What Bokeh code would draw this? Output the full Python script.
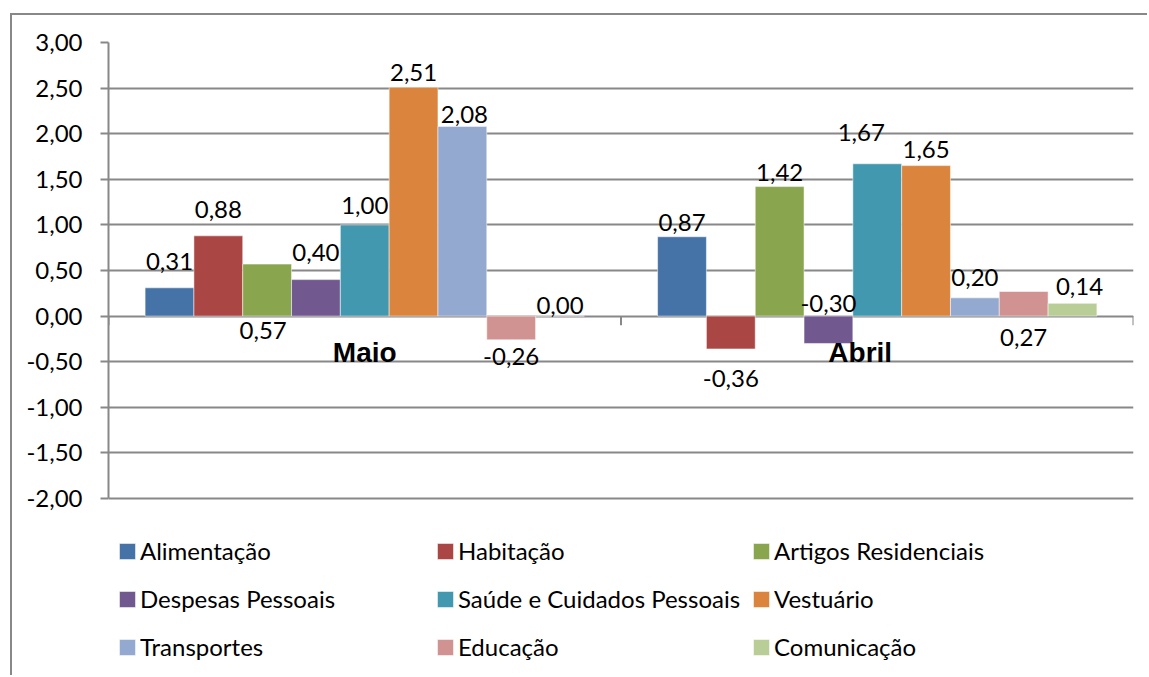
from bokeh.plotting import figure
from bokeh.models import (Legend, LegendItem, ColumnDataSource, FixedTicker, Range1d)
from bokeh.core.properties import value
from bokeh.embed import file_html
from bokeh.resources import INLINE

# ---------------- data ----------------
categories = ["Maio", "Abril"]
series_names = ["Alimentação", "Habitação", "Artigos Residenciais",
                "Despesas Pessoais", "Saúde e Cuidados Pessoais", "Vestuário",
                "Transportes", "Educação", "Comunicação"]
alimentacao = [0.31, 0.87]
habitacao = [0.88, -0.36]
artigos_residenciais = [0.57, 1.42]
despesas_pessoais = [0.40, -0.30]
saude_cuidados = [1.00, 1.67]
vestuario = [2.51, 1.65]
transportes = [2.08, 0.20]
educacao = [-0.26, 0.27]
comunicacao = [0.00, 0.14]
y_ticks = [-2.0, -1.5, -1.0, -0.5, 0.0, 0.5, 1.0, 1.5, 2.0, 2.5, 3.0]
y_tick_labels = ["-2,00", "-1,50", "-1,00", "-0,50", "0,00", "0,50",
                 "1,00", "1,50", "2,00", "2,50", "3,00"]

series_values = [alimentacao, habitacao, artigos_residenciais, despesas_pessoais,
                 saude_cuidados, vestuario, transportes, educacao, comunicacao]

# ---------------- styles ----------------
colors = ["#4572A7", "#AA4643", "#89A54E", "#71588F", "#4198AF",
          "#DB843D", "#93A9CF", "#D19392", "#B9CD96"]
# data-label placement per series: (anchor, dx px, dy px) for [Maio, Abril]
# anchor "end" = at bar end, "zero" = at the zero line; dy positive = downwards
label_place = [
    [("end", 0, -26), ("end", 0, -14)],
    [("end", 0, -26), ("end", 0, 30)],
    [("zero", -4, 14), ("end", 0, -14)],
    [("end", 0, -27), ("zero", 0, -13)],
    [("end", 0, -19), ("end", -16, -31)],
    [("end", 0, -15), ("end", 0, -16)],
    [("end", 2, -12), ("end", 0, -20)],
    [("end", 0, 17), ("zero", 0, 21)],
    [("end", 0, -11), ("end", 7, -17)],
]
cat_label_dx = [0, -17]
cat_label_dy = 36

GRID = "#888888"
FONT = "Lato"
FS = "24px"

# canvas sits inside a page-level border (left/top), offset by 12/15 px
CANVAS_W, CANVAS_H = 1137, 662
B_LEFT, B_TOP, B_RIGHT = 96, 27, 16
PX_PER_UNIT = 91.2
frame_h = CANVAS_H - B_TOP
y_top = 3.0
y_bottom = y_top - frame_h / PX_PER_UNIT

p = figure(width=CANVAS_W, height=CANVAS_H, output_backend="svg",
           toolbar_location=None,
           x_range=Range1d(0, len(categories)), y_range=Range1d(y_bottom, y_top),
           x_axis_location=None,
           min_border_left=B_LEFT, min_border_right=B_RIGHT,
           min_border_top=B_TOP, min_border_bottom=0)
p.styles = {"margin-left": "10px", "margin-top": "13px",
            "border-left": f"2px solid {GRID}", "border-top": f"2px solid {GRID}"}
p.outline_line_color = None
p.background_fill_color = "white"
p.border_fill_color = "white"

# y axis
p.yaxis.ticker = FixedTicker(ticks=y_ticks)
p.yaxis.bounds = (min(y_ticks), max(y_ticks))
p.yaxis.major_label_overrides = dict(zip(y_ticks, y_tick_labels))
p.yaxis.axis_line_color = GRID
p.yaxis.axis_line_width = 2
p.yaxis.major_tick_line_color = GRID
p.yaxis.major_tick_line_width = 2
p.yaxis.major_tick_out = 8
p.yaxis.major_tick_in = 0
p.yaxis.minor_tick_line_color = None
p.yaxis.major_label_standoff = 18
p.yaxis.major_label_text_font = FONT
p.yaxis.major_label_text_font_size = FS
p.yaxis.major_label_text_color = "black"

p.ygrid.ticker = FixedTicker(ticks=y_ticks)
p.ygrid.grid_line_color = GRID
p.ygrid.grid_line_width = 2
p.xgrid.visible = False

n = len(series_names)
bw = 1.0 / (n + 1.5)
renderers = []
lab_x, lab_y, lab_t, lab_dx, lab_dy = [], [], [], [], []
for i, (name, vals) in enumerate(zip(series_names, series_values)):
    xs = [c + 0.5 + (i - (n - 1) / 2) * bw for c in range(len(categories))]
    src = ColumnDataSource(dict(x=xs, top=vals))
    r = p.vbar(x="x", top="top", bottom=0, width=bw, source=src,
               fill_color=colors[i], line_color="white", line_alpha=0.5,
               line_width=1)
    renderers.append(r)
    for c, v in enumerate(vals):
        anchor, dx, dy = label_place[i][c]
        lab_x.append(xs[c])
        lab_y.append(v if anchor == "end" else 0.0)
        lab_t.append(f"{v:.2f}".replace(".", ","))
        lab_dx.append(dx)
        lab_dy.append(dy)

lsrc = ColumnDataSource(dict(x=lab_x, y=lab_y, t=lab_t, dx=lab_dx, dy=lab_dy))
p.text(x="x", y="y", text="t", x_offset="dx", y_offset="dy", source=lsrc,
       text_font=value(FONT), text_font_size=FS, text_color="black",
       text_align="center", text_baseline="middle")

# category axis ticks at the zero line
bounds = list(range(len(categories) + 1))
p.segment(x0=bounds, x1=bounds, y0=[0] * len(bounds), y1=[-0.1] * len(bounds),
          line_color=GRID, line_width=2)

# category labels
csrc = ColumnDataSource(dict(x=[c + 0.5 for c in range(len(categories))],
                             y=[0.0] * len(categories), t=categories,
                             dx=cat_label_dx))
p.text(x="x", y="y", text="t", x_offset="dx", y_offset=cat_label_dy, source=csrc,
       text_font=value("Liberation Sans"), text_font_style="bold",
       text_font_size="28px", text_color="black",
       text_align="center", text_baseline="middle")

# legend: three columns placed below the value axis
col_x = [9, 327, 643]
for col in range(3):
    items = [LegendItem(label=series_names[k], renderers=[renderers[k]])
             for k in range(col, n, 3)]
    lg = Legend(items=items, location=(col_x[col], 16), orientation="vertical",
                padding=0, margin=0, spacing=19, label_height=26,
                glyph_width=20, glyph_height=20, label_standoff=3,
                border_line_alpha=0, background_fill_alpha=0,
                label_text_font=FONT, label_text_font_size=FS,
                label_text_color="black")
    p.add_layout(lg, "center")

open("out.html", "w").write(file_html(p, INLINE))
